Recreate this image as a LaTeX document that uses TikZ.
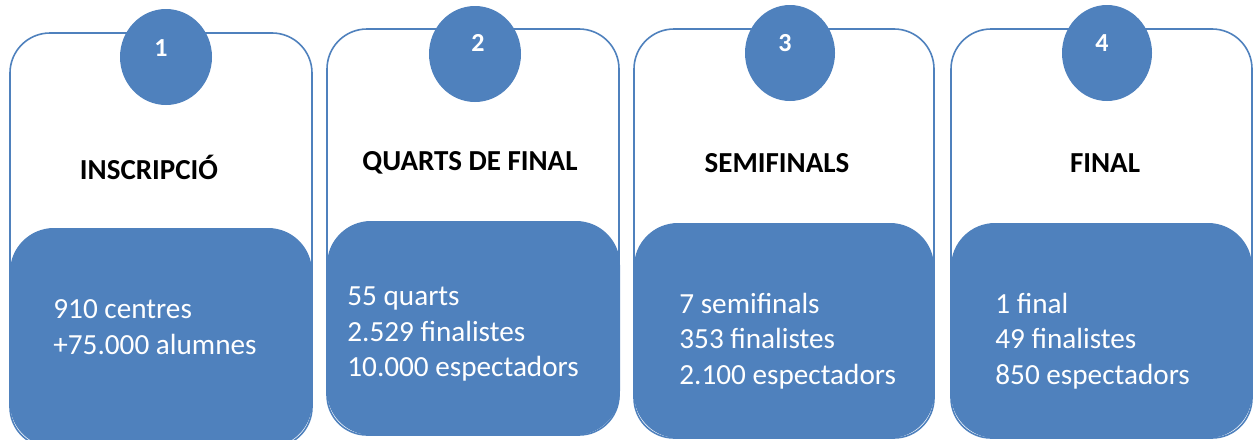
\documentclass[tikz,border=0pt]{standalone}
\usepackage{fontspec}
\setmainfont{Carlito}
\definecolor{stageblue}{RGB}{79,129,189}
\tikzset{every node/.style={align=left, inner sep=0pt},
  frame/.style={draw=stageblue, line width=0.8pt, fill=white, rounded corners=20pt},
  panel/.style={fill=stageblue, rounded corners=22pt},
  badge/.style={fill=stageblue},
  num/.style={text=white, font=\fontsize{13}{15}\selectfont\bfseries},
  title/.style={font=\fontsize{14.5}{17}\selectfont\bfseries},
  facts/.style={anchor=west, text=white, font=\fontsize{14.6}{17.75}\selectfont}}

\begin{document}
\begin{tikzpicture}[x=0.5pt, y=-0.5pt]
            \clip (0,0) rectangle (1256,439);
            % 1
            \draw [frame] (10,33) rectangle (312,447);
            \fill [panel] (10,228) rectangle (312,447);
            \fill [badge] (166,57) ellipse [x radius=46, y radius=48];
            \node [num] (n1) at (161,48) {1};
            \node [title] (t1) at (149,167) {INSCRIPCIÓ};
            \node [facts] (f1) at (53,327) {910 centres \\ +75.000 alumnes};
            % 2
            \draw [frame] (327,29) rectangle (619,435);
            \fill [panel] (327,221) rectangle (620,435);
            \fill [badge] (475,54) ellipse [x radius=46, y radius=48];
            \node [num] (n2) at (478,43) {2};
            \node [title] (t2) at (470,163) {QUARTS DE FINAL};
            \node [facts] (f2) at (347,334) {55 quarts \\ 2.529 finalistes \\ 10.000 espectadors};
            % 3
            \draw [frame] (634,29) rectangle (934,438);
            \fill [panel] (634,223) rectangle (934,438);
            \fill [badge] (790,53) ellipse [x radius=45, y radius=48];
            \node [num] (n3) at (785,43) {3};
            \node [title] (t3) at (777,163) {SEMIFINALS};
            \node [facts] (f3) at (679,341) {7 semifinals \\ 353 finalistes \\ 2.100 espectadors};
            % 4
            \draw [frame] (951,29) rectangle (1252,438);
            \fill [panel] (951,223) rectangle (1252,438);
            \fill [badge] (1107,53) ellipse [x radius=45, y radius=48];
            \node [num] (n4) at (1102,43) {4};
            \node [title] (t4) at (1105,163) {FINAL};
            \node [facts] (f4) at (995,341) {1 final \\ 49 finalistes \\ 850 espectadors};
        \end{tikzpicture}
\end{document}
